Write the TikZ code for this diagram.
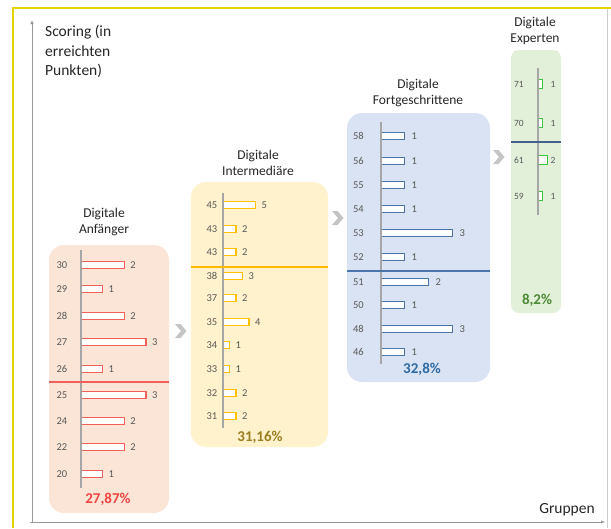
\documentclass[tikz,border=0pt]{standalone}
\usepackage{fontspec}
\setmainfont{Carlito}
\usetikzlibrary{arrows.meta}
\definecolor{labgrey}{HTML}{595959}
\definecolor{titgrey}{HTML}{262626}
\definecolor{axgrey}{HTML}{A6A6A6}
\definecolor{fillA}{HTML}{FBE5D6}
\definecolor{fillB}{HTML}{FFF2CC}
\definecolor{fillC}{HTML}{DAE3F3}
\definecolor{fillD}{HTML}{E2F0D9}
\definecolor{barA}{HTML}{F2605A}
\definecolor{barB}{HTML}{FFC000}
\definecolor{barC}{HTML}{4A76AB}
\definecolor{barD}{HTML}{3CC43C}
\definecolor{pctA}{HTML}{EF4444}
\definecolor{pctB}{HTML}{9C7E22}
\definecolor{pctC}{HTML}{2E6BA4}
\definecolor{pctD}{HTML}{4C8A36}
\definecolor{sepD}{HTML}{44608C}
\definecolor{frameY}{HTML}{E3D400}
\definecolor{chev}{HTML}{C4C4C4}
\begin{document}
\begin{tikzpicture}[x=1pt,y=-1pt,
  numlab/.style={font=\fontsize{10.5}{12}\selectfont, text=labgrey, inner sep=0pt, anchor=east},
  vallab/.style={font=\fontsize{10.5}{12}\selectfont, text=labgrey, inner sep=0pt, anchor=west},
  grptitle/.style={align=center, font=\fontsize{13.5}{16.5}\selectfont, text=titgrey, inner sep=0pt},
  pct/.style={font=\fontsize{15}{18}\selectfont\bfseries, inner sep=0pt},
  grpbox/.style={rounded corners=15pt},
  inaxis/.style={draw=axgrey, line width=2pt},
  sep/.style={line width=1.4pt},
  chevshape/.style={fill=chev, draw=none},
  mainaxis/.style={draw=gray!80, line width=0.9pt, -{Latex[length=4pt,width=3.5pt]}}
]
\useasboundingbox (0,0) rectangle (611,528);
% frame
\draw[frameY, line width=1.5pt] (13,528) -- (13,8) -- (611,8);
\draw[gray!40, line width=0.8pt] (607,9) -- (607,528);
% main axes
\coordinate (yo) at (32,523);
\coordinate (yt) at (32,20);
\coordinate (xo) at (30,522);
\coordinate (xt) at (605,522);
\draw[mainaxis] (yo) -- (yt);
\draw[mainaxis] (xo) -- (xt);
\node[anchor=north west, align=left, font=\fontsize{15.5}{19.5}\selectfont, text=titgrey, inner sep=0pt] (ytitle) at (45,25) {Scoring (in\\erreichten\\Punkten)};
\node[font=\fontsize{15.5}{18}\selectfont, text=titgrey, inner sep=0pt] (xtitle) at (567,510) {Gruppen};

% ===== Box A =====
\fill[fillA, grpbox] (49,245) rectangle (169,513);
\node[grptitle] (tA) at (104,222) {Digitale\\Anfänger};
\foreach \lab/\val/\yy [count=\i] in {30/2/265,29/1/289,28/2/316,27/3/342,26/1/369,25/3/395,24/2/421,22/2/447,20/1/474}{
  \node[numlab] (an\i) at (67.5,\yy) {\lab};
  \draw[barA, fill=white, line width=1.2pt] (80.5,\yy-3.7) rectangle (80.5+21.8*\val,\yy+3.7);
  \node[vallab] (av\i) at (80.5+21.8*\val+6,\yy) {\val};
}
\draw[inaxis] (80.5,250) -- (80.5,488);
\draw[sep, draw=barA] (49,382) -- (169,382);
\node[pct, text=pctA] (pA) at (108,499) {27,87\%};

% ===== Box B =====
\fill[fillB, grpbox] (191,182) rectangle (328,447);
\node[grptitle] (tB) at (258,163) {Digitale\\Intermediäre};
\foreach \lab/\val/\yy [count=\i] in {45/5/205,43/2/229,43/2/252,38/3/276,37/2/298,35/4/322,34/1/345,33/1/369,32/2/393,31/2/416}{
  \node[numlab] (bn\i) at (217.5,\yy) {\lab};
  \draw[barB, fill=white, line width=1.2pt] (223,\yy-3.7) rectangle (223+6.5*\val,\yy+3.7);
  \node[vallab] (bv\i) at (223+6.5*\val+6,\yy) {\val};
}
\draw[inaxis] (223,193) -- (223,428);
\draw[sep, draw=barB!90!orange] (191,267) -- (328,267);
\node[pct, text=pctB] (pB) at (260,437) {31,16\%};

% ===== Box C =====
\fill[fillC, grpbox] (347,113) rectangle (490,382);
\node[grptitle] (tC) at (418,93) {Digitale\\Fortgeschrittene};
\foreach \lab/\val/\yy [count=\i] in {58/1/136,56/1/161,55/1/185,54/1/209,53/3/233,52/1/257,51/2/282,50/1/305,48/3/329,46/1/352}{
  \node[numlab] (cn\i) at (364,\yy) {\lab};
  \draw[barC, fill=white, line width=1.2pt] (380.5,\yy-3.7) rectangle (380.5+24*\val,\yy+3.7);
  \node[vallab] (cv\i) at (380.5+24*\val+7,\yy) {\val};
}
\draw[inaxis] (380.5,122) -- (380.5,364);
\draw[sep, draw=barC] (347,271) -- (490,271);
\node[pct, text=pctC] (pC) at (422,369) {32,8\%};

% ===== Box D =====
\fill[fillD, rounded corners=8pt] (511,50) rectangle (561,313);
\node[grptitle] (tD) at (535,31) {Digitale\\Experten};
\foreach \lab/\val/\yy [count=\i] in {71/1/84,70/1/123,61/2/160,59/1/196}{
  \node[numlab, font=\fontsize{9.5}{11}\selectfont] (dn\i) at (524,\yy) {\lab};
  \draw[barD, fill=white, line width=1pt] (538,\yy-4.5) rectangle (538+4.5*\val,\yy+4.5);
  \node[vallab, font=\fontsize{9.5}{11}\selectfont] (dv\i) at (550.5,\yy) {\val};
}
\draw[inaxis] (538,68) -- (538,215);
\draw[sep, draw=sepD] (511,142) -- (561,142);
\node[pct, text=pctD] (pD) at (537,300) {8,2\%};

% ===== chevrons =====
\foreach \cx/\cy in {181/331, 338/218, 499/157}{
  \fill[chevshape] (\cx-6,\cy-7) -- (\cx-0.5,\cy-7) -- (\cx+5.5,\cy) -- (\cx-0.5,\cy+7) -- (\cx-6,\cy+7) -- (\cx,\cy) -- cycle;
}
\end{tikzpicture}
\end{document}
